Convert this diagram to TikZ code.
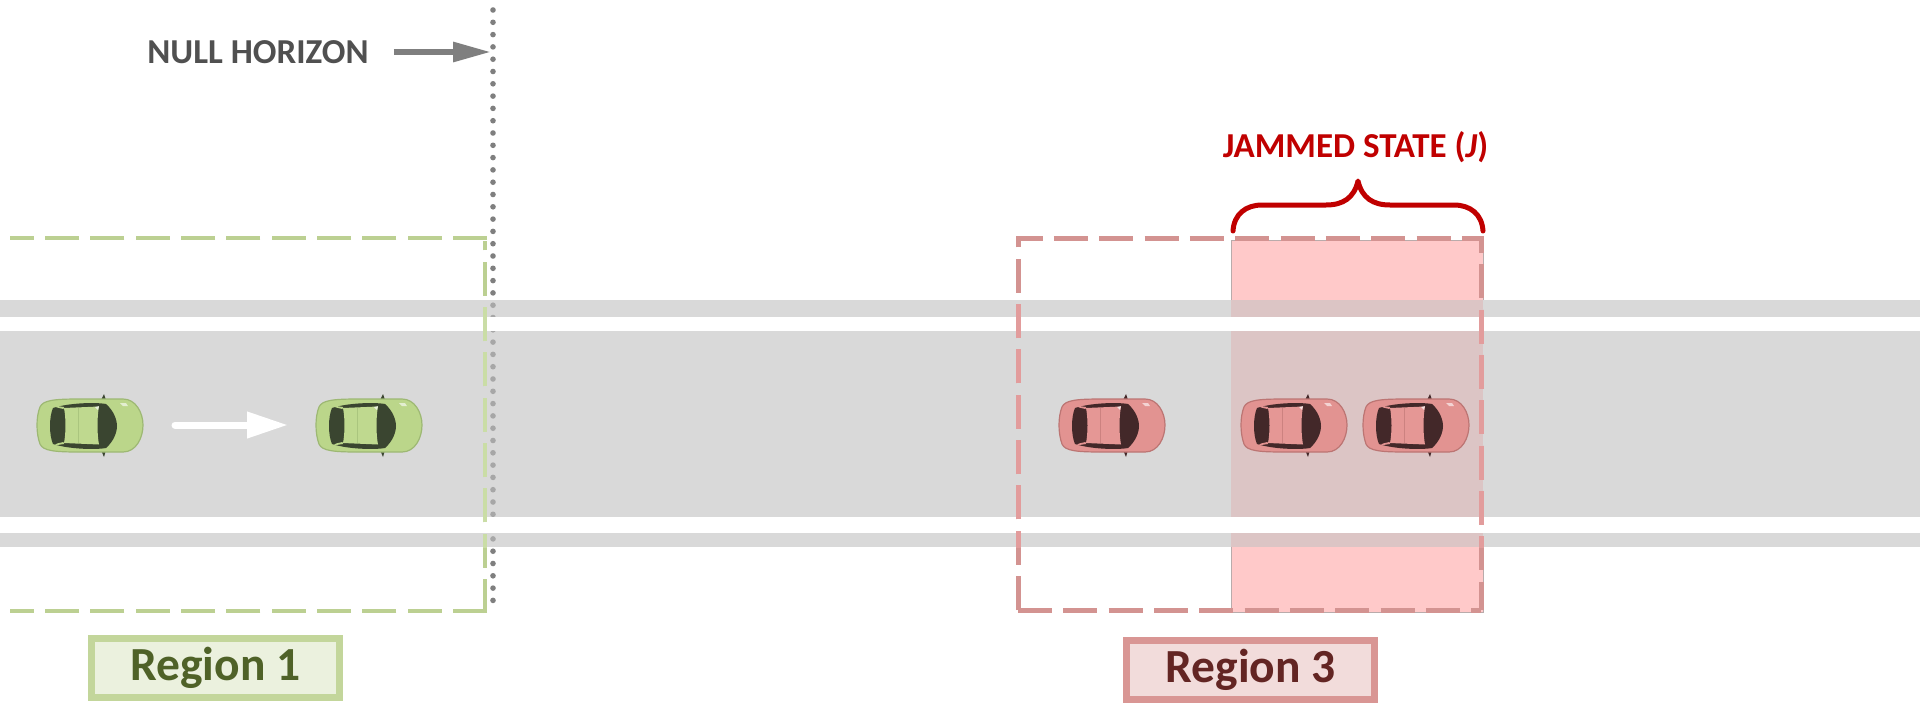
\documentclass[tikz,border=0pt]{standalone}
\usepackage{fontspec}
\setmainfont{Carlito}
\usetikzlibrary{arrows.meta}
\definecolor{roadc}{HTML}{D9D9D9}
\definecolor{overlapc}{HTML}{DCC5C5}
\definecolor{pinkc}{HTML}{FFC9C9}
\definecolor{pinkedge}{HTML}{B9ABAB}
\definecolor{greenln}{HTML}{BCD092}
\definecolor{greenlnroad}{HTML}{CADDA6}
\definecolor{redln}{HTML}{D39391}
\definecolor{redlnroad}{HTML}{E29C9C}
\definecolor{regiong}{HTML}{C3D69B}
\definecolor{regionr}{HTML}{D99694}
\definecolor{dotc}{HTML}{7F7F7F}
\definecolor{arrowc}{HTML}{7F7F7F}
\definecolor{nulltext}{HTML}{505050}
\definecolor{jamc}{HTML}{C00000}
\definecolor{gbody}{HTML}{BBD68A}
\definecolor{gedge}{HTML}{9DB873}
\definecolor{groof}{HTML}{BFD98F}
\definecolor{gwin}{HTML}{3A4530}
\definecolor{rbody}{HTML}{E29391}
\definecolor{redge}{HTML}{BC7573}
\definecolor{rroof}{HTML}{E59795}
\definecolor{rwin}{HTML}{432829}
\definecolor{gboxfill}{HTML}{EBF1DE}
\definecolor{gboxtext}{HTML}{4F6228}
\definecolor{rboxfill}{HTML}{F2DCDB}
\definecolor{rboxtext}{HTML}{632523}
\tikzset{
  x=1pt,y=-1pt,
  dashbox/.style={dash pattern=on 34pt off 11.33pt,line cap=butt},
  greenline/.style={dashbox,line width=4.6pt,draw=greenln},
  greenroad/.style={dashbox,line width=4.8pt,draw=greenlnroad},
  redline/.style={dashbox,line width=5pt,draw=redln},
  redroad/.style={dashbox,line width=5pt,draw=redlnroad},
  regionbox/.style={draw,line width=7pt,inner sep=0pt,minimum width=248pt,minimum height=59pt,
    font=\fontsize{47.5}{52}\selectfont\bfseries},
  plainlabel/.style={inner sep=0pt,font=\fontsize{35}{40}\selectfont\bfseries},
  pics/car/.style n args={4}{code={
    \coordinate (-tail) at (-53,0);
    \coordinate (-nose) at (53,0);
    \fill[#4] (14,-31) -- (16,-25) -- (11,-25) -- cycle;
    \fill[#4] (14,32) -- (16,25) -- (11,25) -- cycle;
    \path[fill=#1,draw=#2,line width=1.2pt]
      (-50,-18) .. controls (-47,-25) and (-35,-26) .. (-10,-26)
      -- (33,-26) .. controls (46,-26) and (53,-12) .. (53,0)
      .. controls (53,13) and (46,27) .. (33,27)
      -- (-10,27) .. controls (-35,27) and (-47,26) .. (-50,19)
      .. controls (-54,8) and (-54,-8) .. (-50,-18) -- cycle;
    \fill[#4] (-37,-17) .. controls (-22,-22) and (5,-23) .. (16,-21)
      .. controls (24,-14) and (27,-5) .. (27,1)
      .. controls (27,7) and (24,16) .. (16,23)
      .. controls (5,25) and (-22,24) .. (-37,19)
      .. controls (-41,10) and (-41,-8) .. (-37,-17) -- cycle;
    \fill[#3] (-26,-17) -- (9,-18.5) .. controls (7,-8) and (7,9) .. (9,19.5)
      -- (-26,18) .. controls (-24,8) and (-24,-7) .. (-26,-17) -- cycle;
    \fill[#1] (-36,-19.5) -- (-26,-18) -- (-26.5,-16) -- (-33,-17.5) -- cycle;
    \fill[#1] (-36,20.5) -- (-26,19) -- (-26.5,17) -- (-33,18.5) -- cycle;
    \draw[#2,line width=.5pt,opacity=.6] (-12,-17) -- (-12,18);
    \fill[white,opacity=.6] (30,-22) -- (36,-22) -- (38,-19) -- (33,-19) -- cycle;
    \fill[white,opacity=.7] (5,-18) -- (9,-19) -- (8,-15) -- cycle;
  }},
}
\begin{document}
\begin{tikzpicture}
\useasboundingbox (0,0) rectangle (1920,702);
\fill[white] (0,0) rectangle (1920,702);
% jammed area
\path[fill=pinkc,draw=pinkedge,line width=1pt] (1231,240) rectangle (1483,612);
% road
\fill[roadc] (0,300) rectangle (1920,317);
\fill[roadc] (0,331) rectangle (1920,517);
\fill[roadc] (0,533) rectangle (1920,547);
\fill[overlapc] (1231,300) rectangle (1483,317);
\fill[overlapc] (1231,331) rectangle (1483,517);
\fill[overlapc] (1231,533) rectangle (1483,547);
% null horizon
\coordinate (hztop) at (493,10);
\coordinate (hzbottom) at (493,610);
\coordinate (hzmark) at (493,52);
\draw[dotc,line width=5.6pt,line cap=round,dash pattern=on 0pt off 12.3pt] (hztop) -- (hzbottom);
\fill[roadc,opacity=.45] (487,300) rectangle (499,547);
% white lane lines
\fill[white] (0,317) rectangle (1920,331);
\fill[white] (0,517) rectangle (1920,533);
% region 1 dashed box
\coordinate (gtr) at (487,238);
\coordinate (gtl) at (10,238);
\coordinate (gbr) at (487,611);
\coordinate (gbl) at (10,611);
\coordinate (gvs) at (485,613);
\coordinate (gve) at (485,241);
\draw[greenline] (gtr) -- (gtl);
\draw[greenline] (gbr) -- (gbl);
\draw[greenline] (gvs) -- (gve);
\begin{scope}
  \clip (470,300) rectangle (500,547);
  \draw[greenroad] (gvs) -- (gve);
\end{scope}
% region 3 dashed box
\coordinate (rtl) at (1018,238);
\coordinate (rtr) at (1481,238);
\coordinate (rbl) at (1018,610);
\coordinate (rbr) at (1481,610);
\draw[redline] (rbl) -- (rtl) -- (rtr) -- (rbr);
\draw[redline] (rbl) -- (rbr);
\begin{scope}
  \clip (1000,300) rectangle (1500,547);
  \draw[redroad] (rbl) -- (rtl) -- (rtr) -- (rbr);
\end{scope}
% brace
\coordinate (brl) at (1233,231);
\coordinate (brr) at (1483,231);
\coordinate (brm) at (1358,181);
\draw[jamc,line width=5pt,line cap=round,line join=round]
  (brl) .. controls (1234,214) and (1246,205) .. (1262,205)
  -- (1326,205) .. controls (1343,205) and (1354,198) .. (brm)
  .. controls (1362,198) and (1373,205) .. (1390,205)
  -- (1454,205) .. controls (1470,205) and (1482,214) .. (brr);
% cars
\pic (c1) at (90,425) {car={gbody}{gedge}{groof}{gwin}};
\pic (c2) at (369,425) {car={gbody}{gedge}{groof}{gwin}};
\pic (c3) at (1112,425) {car={rbody}{redge}{rroof}{rwin}};
\pic (c4) at (1294,425) {car={rbody}{redge}{rroof}{rwin}};
\pic (c5) at (1416,425) {car={rbody}{redge}{rroof}{rwin}};
% motion arrow
\draw[white,line width=7pt,line cap=round,shorten <=32pt,shorten >=28pt,
  -{Triangle[length=41pt,width=25pt]}] (c1-nose) -- (c2-tail);
% labels
\node[plainlabel,text=nulltext] (nulllabel) at (258,52) {NULL HORIZON};
\draw[arrowc,line width=6pt,shorten <=25pt,shorten >=2pt,
  -{Triangle[length=38pt,width=19pt]}] (nulllabel.east) -- (hzmark);
\node[plainlabel,text=jamc] (jamlabel) at (1355.5,147) {JAMMED STATE (\textit{J})};
\node[regionbox,draw=regiong,fill=gboxfill,text=gboxtext] (region1) at (215.5,667.5) {\raisebox{-1.5pt}{Region 1}};
\node[regionbox,draw=regionr,fill=rboxfill,text=rboxtext] (region3) at (1250.5,669.5) {\raisebox{-1pt}{Region 3}};
\end{tikzpicture}
\end{document}
